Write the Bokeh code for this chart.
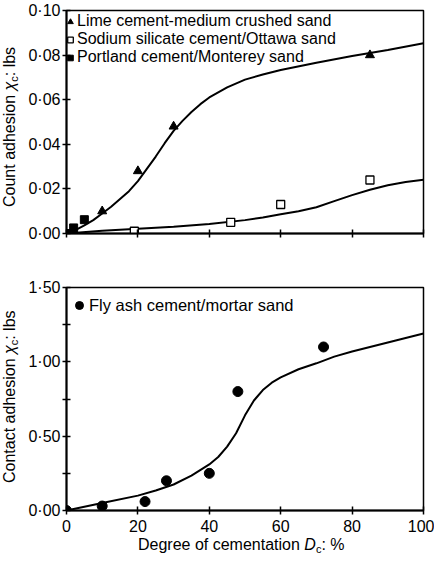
from bokeh.plotting import figure
from bokeh.models import (Range1d, FixedTicker, CustomJSTickFormatter, Legend,
                          LegendItem, Div)
from bokeh.layouts import column, row
from bokeh.core.properties import value
from bokeh.embed import file_html
from bokeh.resources import INLINE

# ---------------- data ----------------
lime_x = [10, 20, 30, 85]
lime_y = [0.010, 0.028, 0.048, 0.080]
sodium_x = [19, 46, 60, 85]
sodium_y = [0.001, 0.005, 0.013, 0.024]
portland_x = [0, 2, 5]
portland_y = [0.0, 0.0025, 0.0062]

lime_curve_x = [0, 2.5, 5, 7.5, 10, 12.5, 15, 17.5, 20, 22.5, 25, 27.5, 30, 32.5,
                35, 37.5, 40, 45, 50, 55, 60, 70, 80, 90, 100]
lime_curve_y = [0.0, 0.0015, 0.0036, 0.006, 0.009, 0.012, 0.0155, 0.019, 0.0235,
                0.029, 0.0345, 0.0405, 0.046, 0.0505, 0.0545, 0.058, 0.061, 0.0655,
                0.069, 0.0713, 0.0733, 0.0766, 0.0796, 0.0823, 0.0853]
sodium_curve_x = [0, 10, 20, 30, 40, 50, 55, 60, 65, 70, 75, 80, 85, 90, 95, 100]
sodium_curve_y = [0.0, 0.0012, 0.0021, 0.003, 0.0043, 0.006, 0.0072, 0.0086,
                  0.0100, 0.0118, 0.0145, 0.0172, 0.0196, 0.0216, 0.0231, 0.0241]

flyash_x = [0, 10, 22, 28, 40, 48, 72]
flyash_y = [0.0, 0.03, 0.06, 0.20, 0.25, 0.80, 1.10]
flyash_curve_x = [0, 10, 20, 25, 30, 35, 40, 42.5, 45, 47.5, 50, 52.5, 55, 57.5,
                  60, 65, 70, 75, 80, 85, 90, 95, 100]
flyash_curve_y = [0.0, 0.05, 0.10, 0.135, 0.175, 0.235, 0.31, 0.36, 0.43, 0.52,
                  0.64, 0.74, 0.81, 0.86, 0.895, 0.95, 0.99, 1.035, 1.07, 1.10,
                  1.13, 1.16, 1.19]

x_ticks = [0, 20, 40, 60, 80, 100]
top_y_ticks = [0.0, 0.02, 0.04, 0.06, 0.08, 0.10]
bottom_y_ticks = [0.0, 0.5, 1.0, 1.5]
bottom_y_minor = [0.25, 0.75, 1.25]

label_lime = "Lime cement-medium crushed sand"
label_sodium = "Sodium silicate cement/Ottawa sand"
label_portland = "Portland cement/Monterey sand"
label_flyash = "Fly ash cement/mortar sand"

FONT = "Liberation Sans"
SUB = "<span style=\"font-size:11px;position:relative;top:3px;\">c</span>"


def style(p, yticks, yminor, show_x_labels):
    p.outline_line_color = "black"
    p.outline_line_width = 1.5
    p.xgrid.visible = False
    p.ygrid.visible = False
    p.background_fill_color = "white"
    p.border_fill_color = "white"
    for ax in (p.xaxis[0], p.yaxis[0]):
        ax.axis_line_width = 2
        ax.axis_line_color = "black"
        ax.major_tick_in = 4
        ax.major_tick_out = 4
        ax.major_tick_line_width = 1.5
        ax.major_tick_line_color = "black"
        ax.minor_tick_in = 4
        ax.minor_tick_out = 4
        ax.minor_tick_line_width = 1.5
        ax.minor_tick_line_color = "black"
        ax.major_label_text_font = FONT
        ax.major_label_text_font_size = "16px"
        ax.major_label_text_color = "black"
    p.xaxis[0].ticker = FixedTicker(ticks=x_ticks)
    p.yaxis[0].ticker = FixedTicker(ticks=yticks, minor_ticks=yminor)
    p.yaxis[0].major_label_standoff = 2
    p.xaxis[0].major_label_standoff = 5
    p.yaxis[0].formatter = CustomJSTickFormatter(
        code="return tick.toFixed(2).replace('.', '\u00b7');")
    if show_x_labels:
        p.xaxis[0].formatter = CustomJSTickFormatter(code="return tick.toFixed(0);")
    else:
        p.xaxis[0].formatter = CustomJSTickFormatter(code="return '';")


def ylabel_div(html, height, start):
    inner = (f"<div style=\"position:relative;width:20px;height:{height}px;\">"
             f"<div style=\"position:absolute;left:2px;top:{start}px;"
             f"transform-origin:0 0;transform:rotate(-90deg);white-space:nowrap;"
             f"font-family:'{FONT}';font-size:16px;line-height:16px;color:black;\">"
             f"{html}</div></div>")
    return Div(text=inner, width=20, height=height, margin=0,
               styles={"overflow": "visible"})


# ---------------- top panel ----------------
top = figure(width=414, height=260, x_range=Range1d(0, 100),
             y_range=Range1d(0, 0.10), output_backend="svg",
             toolbar_location=None, min_border_left=46, min_border_right=11,
             min_border_top=10, min_border_bottom=27)
style(top, top_y_ticks, [], False)

top.line(lime_curve_x, lime_curve_y, line_color="black", line_width=2)
top.line(sodium_curve_x, sodium_curve_y, line_color="black", line_width=2)
r_lime = top.scatter(lime_x, lime_y, marker="triangle", size=9,
                     fill_color="black", line_color="black")
r_sod = top.scatter(sodium_x, sodium_y, marker="square", size=8,
                    fill_color="white", line_color="black", line_width=1.3)
r_port = top.scatter(portland_x, portland_y, marker="square", size=8,
                     fill_color="black", line_color="black")

leg_top = Legend(items=[LegendItem(label=value(label_lime), renderers=[r_lime]),
                        LegendItem(label=value(label_sodium), renderers=[r_sod]),
                        LegendItem(label=value(label_portland), renderers=[r_port])],
                 location=(-3, 167), glyph_width=14, glyph_height=17,
                 label_standoff=-3, spacing=0, padding=0, margin=0,
                 border_line_alpha=0, background_fill_alpha=0,
                 label_text_font=FONT, label_text_font_size="16px",
                 label_text_color="black")
top.add_layout(leg_top)

# ---------------- bottom panel ----------------
bot = figure(width=414, height=277, x_range=Range1d(0, 100),
             y_range=Range1d(0, 1.5), output_backend="svg",
             toolbar_location=None, min_border_left=46, min_border_right=11,
             min_border_top=27, min_border_bottom=27)
style(bot, bottom_y_ticks, bottom_y_minor, True)

bot.line(flyash_curve_x, flyash_curve_y, line_color="black", line_width=2)
r_fly = bot.scatter(flyash_x, flyash_y, marker="circle", size=10,
                    fill_color="black", line_color="black")
leg_bot = Legend(items=[LegendItem(label=value(label_flyash), renderers=[r_fly])],
                 location=(3, 195), glyph_width=20, glyph_height=20,
                 label_standoff=-2, spacing=0, padding=0, margin=0,
                 border_line_alpha=0, background_fill_alpha=0,
                 label_text_font=FONT, label_text_font_size="16.5px",
                 label_text_color="black")
bot.add_layout(leg_bot)

# ---------------- axis titles (real text, with subscripts) ----------------
yl_top = ylabel_div(f"Count adhesion <i>χ</i>{SUB}: lbs", 260, 207)
yl_bot = ylabel_div(f"Contact adhesion <i>χ</i>{SUB}: lbs", 277, 223)

xl_html = (f"<div style=\"position:relative;width:434px;height:24px;\">"
           f"<div style=\"position:absolute;left:138px;top:0px;white-space:nowrap;"
           f"font-family:'{FONT}';font-size:16px;line-height:16px;color:black;\">"
           f"Degree of cementation <i>D</i>{SUB}: %</div></div>")
xl = Div(text=xl_html, width=434, height=24, margin=0)

layout = column(row(yl_top, top, spacing=0), row(yl_bot, bot, spacing=0), xl,
                spacing=0)
open("out.html", "w").write(file_html(layout, INLINE))
